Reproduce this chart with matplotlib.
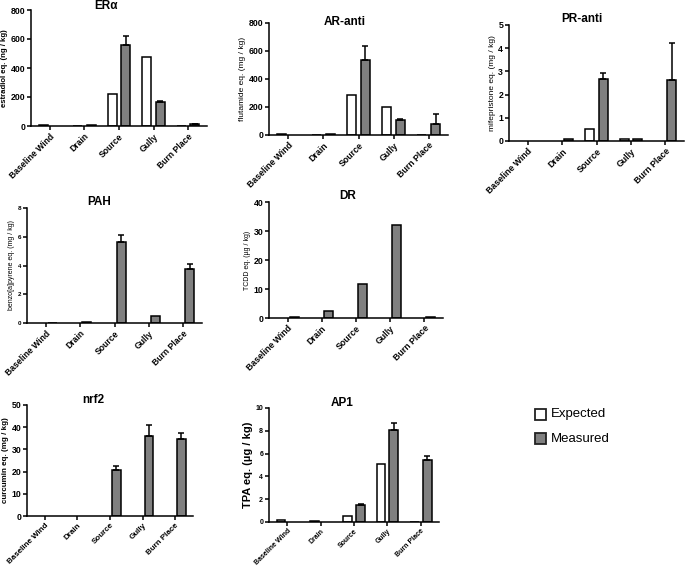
import matplotlib
matplotlib.use("Agg")
import matplotlib.pyplot as plt
import numpy as np
from matplotlib.patches import Rectangle

plt.rcParams['font.family'] = ['Liberation Sans', 'DejaVu Sans']

categories = ["Baseline Wind", "Drain", "Source", "Gully", "Burn Place"]

era_exp = [8, 2, 222, 473, 1]
era_meas = [0, 4, 560, 165, 12]
era_err = [0, 0, 60, 5, 4]

ar_exp = [6, 3, 288, 200, 3]
ar_meas = [0, 5, 538, 110, 81]
ar_err = [0, 0, 95, 3, 71]

pr_exp = [0, 0, 0.53, 0.08, 0]
pr_meas = [0, 0.07, 2.67, 0.08, 2.62]
pr_err = [0, 0, 0.27, 0, 1.6]

pah_exp = [0, 0, 0, 0, 0]
pah_meas = [0.03, 0.1, 5.64, 0.46, 3.78]
pah_err = [0, 0, 0.45, 0, 0.3]

dr_exp = [0, 0, 0, 0, 0]
dr_meas = [0.2, 2.3, 11.6, 32.0, 0.2]
dr_err = [0, 0, 0, 0, 0]

nrf2_exp = [0, 0, 0, 0, 0]
nrf2_meas = [0, 0, 20.7, 36.0, 34.6]
nrf2_err = [0, 0, 1.8, 5.0, 2.6]

ap1_exp = [0.15, 0.05, 0.5, 5.09, 0.03]
ap1_meas = [0, 0, 1.47, 8.09, 5.41]
ap1_err = [0, 0, 0.08, 0.6, 0.4]

W, H = 685, 568
fig = plt.figure(figsize=(W / 100, H / 100), dpi=100)

GREY = "#808080"

panels = [
    ("ERα", era_exp, era_meas, era_err, 800, 200, "estradiol eq. (ng / kg)",
     (31, 207, 10, 126), (106, 6), (6.3, 6.2, 5.6, "bold")),
    ("AR-anti", ar_exp, ar_meas, ar_err, 800, 200, "flutamide eq. (mg / kg)",
     (269, 448, 23, 135), (345, 22), (6.3, 6.3, 6, "normal")),
    ("PR-anti", pr_exp, pr_meas, pr_err, 5, 1, "mifepristone eq. (mg / kg)",
     (509, 684, 25, 141), (582, 19), (6.3, 6.3, 6, "normal")),
    ("PAH", pah_exp, pah_meas, pah_err, 8, 2, "benzo[a]pyrene eq. (mg / kg)",
     (27, 202, 208, 323), (99, 202), (4.5, 6.2, 5, "normal")),
    ("DR", dr_exp, dr_meas, dr_err, 40, 10, "TCDD eq. (µg / kg)",
     (269, 443, 202, 318), (348, 196), (6.3, 6.3, 5, "normal")),
    ("nrf2", nrf2_exp, nrf2_meas, nrf2_err, 50, 10, "curcumin eq. (mg / kg)",
     (27, 193, 405, 516), (93, 400), (6.3, 5.8, 5.8, "bold")),
    ("AP1", ap1_exp, ap1_meas, ap1_err, 10, 2, "TPA eq. (µg / kg)",
     (269, 439, 408, 522), (342, 403), (5, 5, 8, "bold")),
]

x = np.arange(len(categories))
bw = 0.26
off = 0.195

for title, exp, meas, err, ymax, ystep, ylabel, (l, r, t, b), (tx, ty), (yfs, xfs, lfs, lw_) in panels:
    ax = fig.add_axes([l / W, 1 - b / H, (r - l) / W, (b - t) / H])
    exp = np.array(exp, dtype=float)
    meas = np.array(meas, dtype=float)
    err = np.array(err, dtype=float)
    me = exp > 0
    ax.bar(x[me] - off, exp[me], width=bw, color="white", edgecolor="black", linewidth=1.1, zorder=2)
    mm = meas > 0
    ax.bar(x[mm] + off, meas[mm], width=bw, color=GREY, edgecolor="black", linewidth=1.1, zorder=2)
    me2 = err > 0
    ax.errorbar(x[me2] + off, meas[me2], yerr=[np.zeros(me2.sum()), err[me2]], fmt="none",
                ecolor="black", elinewidth=1.1, capsize=2.2, capthick=1.1, zorder=3)
    ax.set_xlim(-0.55, 4.55)
    ax.set_ylim(0, ymax)
    ax.set_yticks(np.arange(0, ymax + ystep / 2, ystep))
    ax.set_xticks(x)
    ax.set_xticklabels(categories, rotation=45, ha="right", rotation_mode="anchor",
                       fontsize=xfs, fontweight="bold")
    for lab in ax.get_yticklabels():
        lab.set_fontsize(yfs)
        lab.set_fontweight("bold")
    ax.set_ylabel(ylabel, fontsize=lfs, fontweight=lw_, labelpad=1.5)
    for s in ["top", "right"]:
        ax.spines[s].set_visible(False)
    for s in ["left", "bottom"]:
        ax.spines[s].set_linewidth(1.1)
    ax.tick_params(direction="out", length=3, width=1.1, pad=1.2)
    ax.patch.set_alpha(0)
    fig.text(tx / W, 1 - ty / H, title, ha="center", va="center", fontsize=8.5, fontweight="bold")

for (yy, fc, lab) in [(414.5, "white", "Expected"), (438.5, GREY, "Measured")]:
    fig.patches.append(Rectangle((535 / W, 1 - (yy + 5.5) / H), 11 / W, 11 / H,
                                 transform=fig.transFigure, facecolor=fc, edgecolor="#222222",
                                 linewidth=1.3))
    fig.text(551 / W, 1 - yy / H, lab, ha="left", va="center", fontsize=9.5)

fig.savefig("out.png", dpi=100)
